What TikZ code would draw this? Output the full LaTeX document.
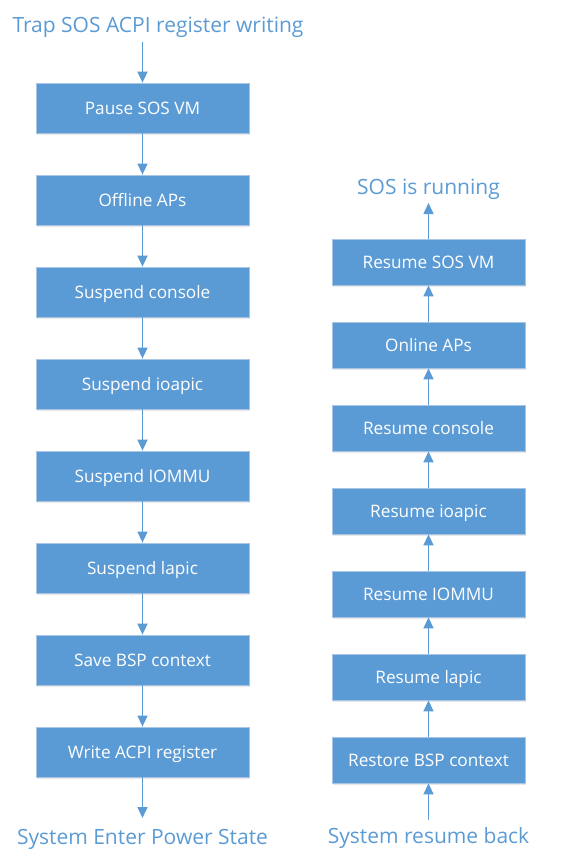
\documentclass[tikz,border=0pt]{standalone}
\usepackage{fontspec}
\setmainfont{Open Sans}
\usetikzlibrary{arrows.meta,shadows}
\definecolor{obox}{HTML}{5B9BD5}
\definecolor{oedge}{HTML}{A9C5E6}
\tikzset{
  lbox/.style={rectangle, fill=obox, draw=oedge, line width=0.8pt, minimum width=213pt, minimum height=50pt, inner sep=0pt, text=white, font=\fontsize{17.2}{20}\selectfont, text height=12.3pt, text depth=0pt, drop shadow={opacity=0.18, shadow xshift=1pt, shadow yshift=-1.5pt}},
  rbox/.style={lbox, minimum width=193pt, minimum height=46pt},
  lbl/.style={text=obox, font=\fontsize{21}{25}\selectfont, inner sep=0pt, anchor=base},
  arr/.style={draw=obox, line width=1.5pt, -{Triangle[width=10pt,length=11pt]}},
}
\begin{document}
\begin{tikzpicture}[x=1pt,y=-1pt]
\useasboundingbox (0,0) rectangle (571,865);
% left column
\node[lbl] (t1) at (158,32.5) {Trap SOS ACPI register writing};
\coordinate (t1s) at (142.5,42);
\node[lbox] (l1) at (142.5,108) {Pause SOS VM};
\node[lbox] (l2) at (142.5,200) {Offline APs};
\node[lbox] (l3) at (142.5,292) {Suspend console};
\node[lbox] (l4) at (142.5,384) {Suspend ioapic};
\node[lbox] (l5) at (142.5,476) {Suspend IOMMU};
\node[lbox] (l6) at (142.5,568) {Suspend lapic};
\node[lbox] (l7) at (142.5,660) {Save BSP context};
\node[lbox] (l8) at (142.5,752) {Write ACPI register};
\coordinate (b1e) at (142.5,818);
\node[lbl] (b1) at (142.5,844) {System Enter Power State};
\draw[arr] (t1s) -- (l1.north);
\draw[arr] (l1.south) -- (l2.north);
\draw[arr] (l2.south) -- (l3.north);
\draw[arr] (l3.south) -- (l4.north);
\draw[arr] (l4.south) -- (l5.north);
\draw[arr] (l5.south) -- (l6.north);
\draw[arr] (l6.south) -- (l7.north);
\draw[arr] (l7.south) -- (l8.north);
\draw[arr] (l8.south) -- (b1e);
% right column
\node[lbl] (t2) at (428.5,194) {SOS is running};
\coordinate (t2e) at (428.5,203);
\node[rbox] (r1) at (428.5,262) {Resume SOS VM};
\node[rbox] (r2) at (428.5,345) {Online APs};
\node[rbox] (r3) at (428.5,428) {Resume console};
\node[rbox] (r4) at (428.5,511) {Resume ioapic};
\node[rbox] (r5) at (428.5,594) {Resume IOMMU};
\node[rbox] (r6) at (428.5,677) {Resume lapic};
\node[rbox] (r7) at (428.5,760) {Restore BSP context};
\coordinate (b2s) at (428.5,820);
\node[lbl] (b2) at (428.5,843) {System resume back};
\draw[arr] (b2s) -- (r7.south);
\draw[arr] (r7.north) -- (r6.south);
\draw[arr] (r6.north) -- (r5.south);
\draw[arr] (r5.north) -- (r4.south);
\draw[arr] (r4.north) -- (r3.south);
\draw[arr] (r3.north) -- (r2.south);
\draw[arr] (r2.north) -- (r1.south);
\draw[arr] (r1.north) -- (t2e);
\end{tikzpicture}
\end{document}
